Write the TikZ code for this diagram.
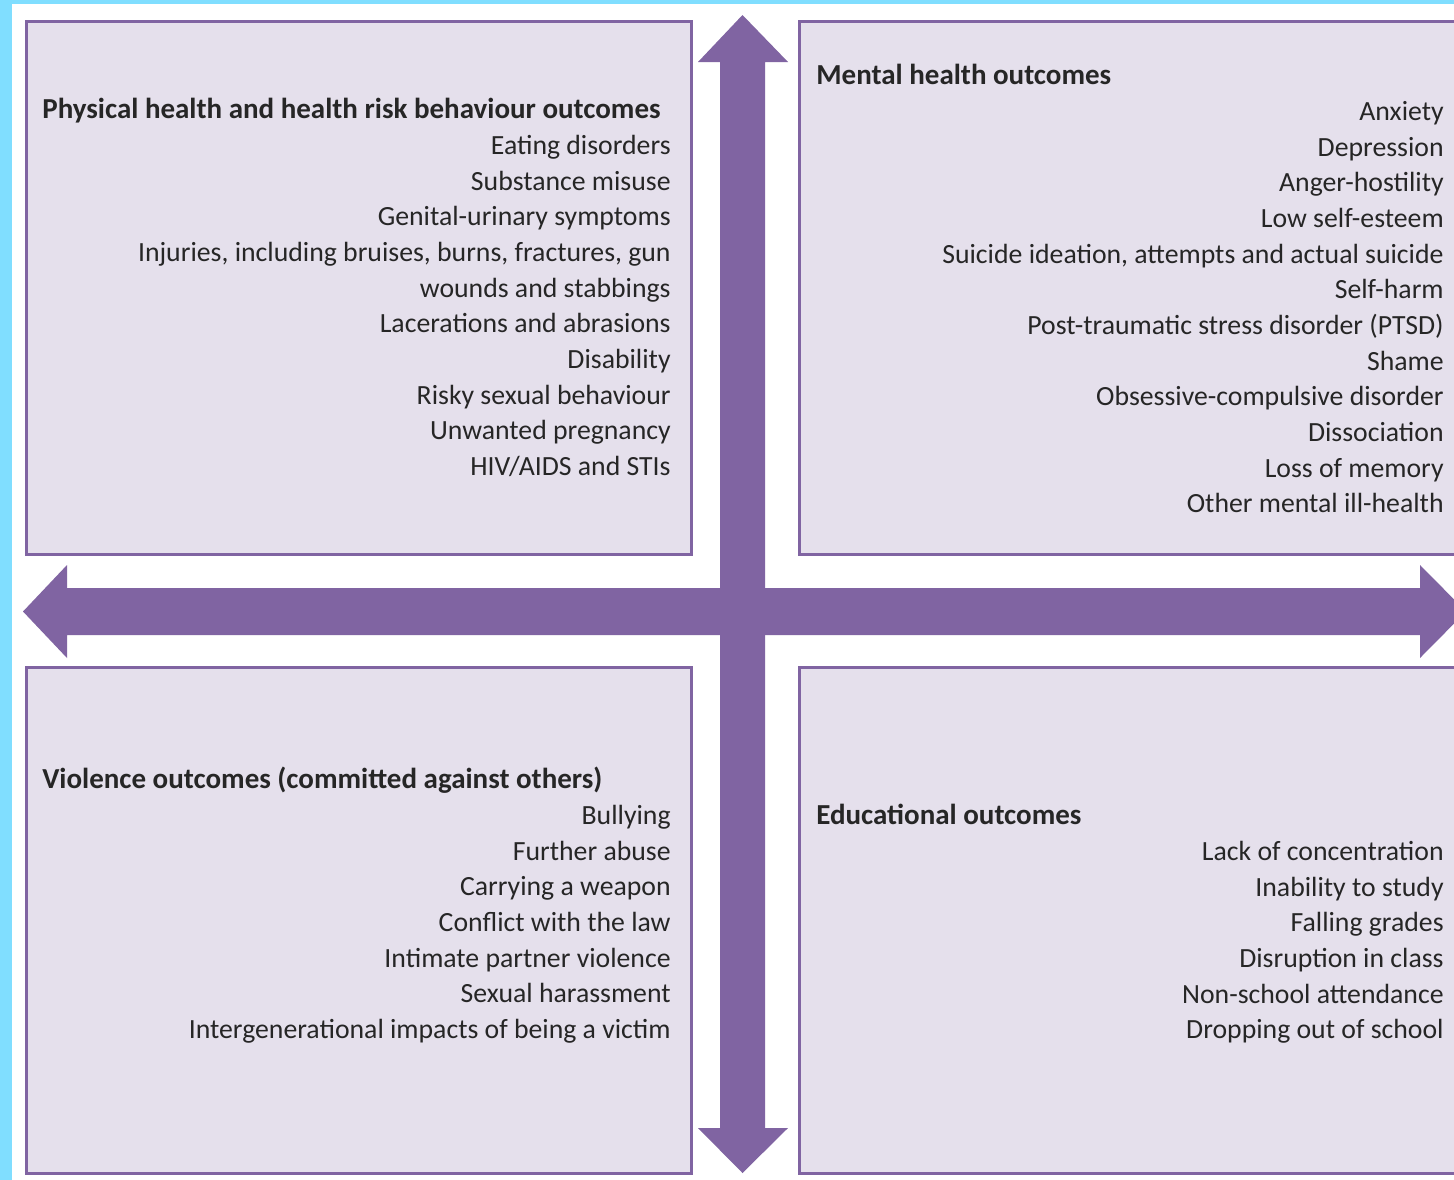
\documentclass[tikz,border=0pt]{standalone}
\usepackage{fontspec}
\setmainfont{Carlito}
\definecolor{edgecyan}{RGB}{128,222,255}
\definecolor{boxfill}{RGB}{229,224,236}
\definecolor{purpline}{RGB}{128,100,162}
\definecolor{textgrey}{RGB}{38,38,38}
\tikzset{%
  % Specifications for style of nodes:
            quadbox/.style = {rectangle, draw=purpline, line width=1.6pt,
                             fill=boxfill, anchor=north west, inner sep=0pt},
            heading/.style = {anchor=base west, inner sep=0pt, text=textgrey,
                             font=\fontsize{16.5}{20.4}\selectfont\bfseries},
            itemlist/.style = {anchor=north east, align=right, inner sep=0pt,
                             text=textgrey, font=\fontsize{15.8}{20.3}\selectfont},
            bigarrow/.style = {fill=purpline, draw=none}
}
\begin{document}
\begin{tikzpicture}[x=0.02cm, y=-0.02cm]
  % frame of the page
  \fill[edgecyan] (0,0) rectangle (1454,1180);
  \fill[white] (12,4) rectangle (1454,1180);
  \useasboundingbox (0,0) rectangle (1454,1180);
  % the four boxes
  \node (physbox)  [quadbox, minimum width=13.3cm, minimum height=10.66cm] at (25,20) {};
  \node (mentbox)  [quadbox, minimum width=13.44cm, minimum height=10.66cm] at (798,20) {};
  \node (violbox)  [quadbox, minimum width=13.3cm, minimum height=10.12cm] at (25,666) {};
  \node (educbox)  [quadbox, minimum width=13.44cm, minimum height=10.12cm] at (798,666) {};
  % the cross of arrows
  \fill[bigarrow] (742.5,15) -- (788,62) -- (765,62) -- (765,1128) -- (788,1128)
     -- (742.5,1173) -- (698,1128) -- (720,1128) -- (720,62) -- (698,62) -- cycle;
  \fill[bigarrow] (23,611.5) -- (67,565) -- (67,588) -- (1420,588) -- (1420,565)
     -- (1466,611.5) -- (1420,658) -- (1420,635) -- (67,635) -- (67,658) -- cycle;
  % Specification of texts
  \node (physhead) [heading] at (42,118) {Physical health and health risk behaviour outcomes};
  \node (physlist) [itemlist] at (671,135) {Eating disorders\\ Substance misuse\\
     Genital-urinary symptoms\\ Injuries, including bruises, burns, fractures, gun\\
     wounds and stabbings\\ Lacerations and abrasions\\ Disability\\
     Risky sexual behaviour\\ Unwanted pregnancy\\ HIV/AIDS and STIs};
  \node (menthead) [heading] at (816,84) {Mental health outcomes};
  \node (mentlist) [itemlist] at (1444,101) {Anxiety\\ Depression\\ Anger-hostility\\
     Low self-esteem\\ Suicide ideation, attempts and actual suicide\\ Self-harm\\
     Post-traumatic stress disorder (PTSD)\\ Shame\\ Obsessive-compulsive disorder\\
     Dissociation\\ Loss of memory\\ Other mental ill-health};
  \node (violhead) [heading] at (42,788) {Violence outcomes (committed against others)};
  \node (viollist) [itemlist] at (671,805) {Bullying\\ Further abuse\\ Carrying a weapon\\
     Conflict with the law\\ Intimate partner violence\\ Sexual harassment\\
     Intergenerational impacts of being a victim};
  \node (educhead) [heading] at (816,824) {Educational outcomes};
  \node (educlist) [itemlist] at (1444,841) {Lack of concentration\\ Inability to study\\
     Falling grades\\ Disruption in class\\ Non-school attendance\\ Dropping out of school};
\end{tikzpicture}
\end{document}
